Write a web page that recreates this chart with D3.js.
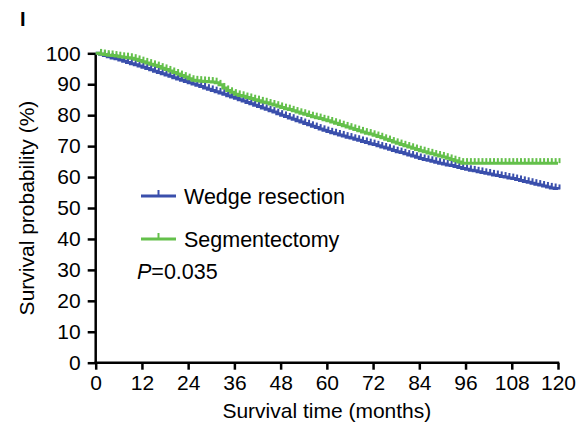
<!DOCTYPE html>
<html><head><meta charset="utf-8">
<script src="https://cdn.jsdelivr.net/npm/d3@7"></script>
<style>body{margin:0;background:#fff}svg{display:block}text{font-family:"Liberation Sans",Arial,sans-serif}</style>
</head><body><svg id="c" width="576" height="434"></svg>
<script>
const months = d3.range(0, 121);
const wedge = [100,99.7,99.3,98.9,98.5,98.2,97.8,97.4,97.0,96.6,96.3,95.9,95.5,
95.1,94.7,94.2,93.8,93.4,93.0,92.6,92.1,91.7,91.3,90.9,90.5,
90.1,89.7,89.3,88.8,88.4,88.0,87.6,87.2,86.8,86.3,85.9,85.5,
85.0,84.6,84.1,83.7,83.2,82.8,82.3,81.9,81.4,81.0,80.5,80.0,
79.6,79.1,78.7,78.2,77.8,77.3,76.9,76.4,76.0,75.5,75.1,74.7,
74.3,74.0,73.6,73.3,72.9,72.6,72.2,71.9,71.5,71.2,70.8,70.5,
70.1,69.7,69.4,69.0,68.6,68.2,67.9,67.5,67.1,66.8,66.4,66.0,
65.7,65.4,65.1,64.8,64.5,64.2,63.9,63.7,63.4,63.1,62.8,62.5,
62.2,62.0,61.7,61.5,61.2,61.0,60.7,60.5,60.2,60.0,59.7,59.5,
59.2,58.9,58.6,58.3,58.0,57.7,57.4,57.1,56.8,56.5,56.3,56.0];
const segment = [100,99.8,99.6,99.4,99.3,99.1,98.9,98.7,98.6,98.4,98.1,97.7,97.3,
96.9,96.5,96.1,95.7,95.2,94.8,94.3,93.8,93.3,92.8,92.3,91.8,
91.3,91.1,91.0,90.9,90.8,90.7,90.5,89.8,88.8,88.0,87.4,86.8,
86.4,86.1,85.7,85.4,85.0,84.7,84.3,84.0,83.6,83.3,82.9,82.5,
82.1,81.8,81.4,81.0,80.6,80.3,79.9,79.5,79.2,78.9,78.5,78.2,
77.8,77.4,77.0,76.6,76.2,75.8,75.4,75.0,74.6,74.2,73.9,73.5,
73.1,72.7,72.2,71.8,71.3,70.9,70.5,70.1,69.7,69.3,68.9,68.5,
68.2,67.8,67.5,67.1,66.8,66.5,66.1,65.7,65.3,64.9,64.5,64.5,
64.5,64.5,64.5,64.5,64.5,64.5,64.5,64.5,64.5,64.5,64.5,64.5,
64.5,64.5,64.5,64.5,64.5,64.5,64.5,64.5,64.5,64.5,64.5,64.5];
const xTicks = [0,12,24,36,48,60,72,84,96,108,120];
const yTicks = [0,10,20,30,40,50,60,70,80,90,100];
const seriesNames = ["Wedge resection","Segmentectomy"];
const colors = ["#3a4fac","#64c04b"];
const pText = "=0.035";

const svg = d3.select("#c");
const x = d3.scaleLinear().domain([0,120]).range([95.7,558]);
const y = d3.scaleLinear().domain([0,100]).range([362.7,53.3]);

svg.append("text").attr("x",20).attr("y",26).attr("font-size",20).attr("font-weight","bold").text("I");

const gx = svg.append("g").attr("transform","translate(0,362.7)")
  .call(d3.axisBottom(x).tickValues(xTicks).tickSize(7).tickPadding(5).tickSizeOuter(0));
const gy = svg.append("g").attr("transform","translate(95.7,0)")
  .call(d3.axisLeft(y).tickValues(yTicks).tickSize(8).tickPadding(7).tickSizeOuter(0));
[gx,gy].forEach(g=>{
  g.select(".domain").attr("stroke","#000").attr("stroke-width",2.5);
  g.selectAll(".tick line").attr("stroke","#000").attr("stroke-width",2.5);
  g.selectAll(".tick text").attr("fill","#000").attr("font-size",21).attr("font-family","Liberation Sans, Arial, sans-serif");
});
gx.select(".domain").attr("d","M94.5,0H559.2");
gy.select(".domain").attr("d","M0,53.3V363.9");

svg.append("text").attr("x",(95.7+558)/2).attr("y",418).attr("text-anchor","middle").attr("font-size",21).text("Survival time (months)");
svg.append("text").attr("transform","translate(34,208) rotate(-90)").attr("text-anchor","middle").attr("font-size",21).text("Survival probability (%)");

const line = d3.line().x((d,i)=>x(months[i])).y(d=>y(d)).curve(d3.curveStepAfter);
[wedge, segment].forEach((s,k)=>{
  const g = svg.append("g");
  g.append("path").attr("d",line(s)).attr("fill","none").attr("stroke",colors[k]).attr("stroke-width",3);
  g.selectAll("line").data(s.slice(1)).join("line")
    .attr("x1",(d,i)=>x(months[i+1])+1.5).attr("x2",(d,i)=>x(months[i+1])+1.5)
    .attr("y1",d=>y(d)-5).attr("y2",d=>y(d))
    .attr("stroke",colors[k]).attr("stroke-width",2);
});

// legend
const lg = [{y:196},{y:239}];
seriesNames.forEach((n,k)=>{
  const ly = lg[k].y;
  svg.append("line").attr("x1",141).attr("x2",176).attr("y1",ly).attr("y2",ly).attr("stroke",colors[k]).attr("stroke-width",3);
  svg.append("line").attr("x1",158.5).attr("x2",158.5).attr("y1",ly-6).attr("y2",ly).attr("stroke",colors[k]).attr("stroke-width",2);
  svg.append("text").attr("x",184).attr("y",ly+8).attr("font-size",21.5).text(n);
});
const pt = svg.append("text").attr("x",137).attr("y",279).attr("font-size",21.5);
pt.append("tspan").attr("font-style","italic").text("P");
pt.append("tspan").text(pText);
</script></body></html>
